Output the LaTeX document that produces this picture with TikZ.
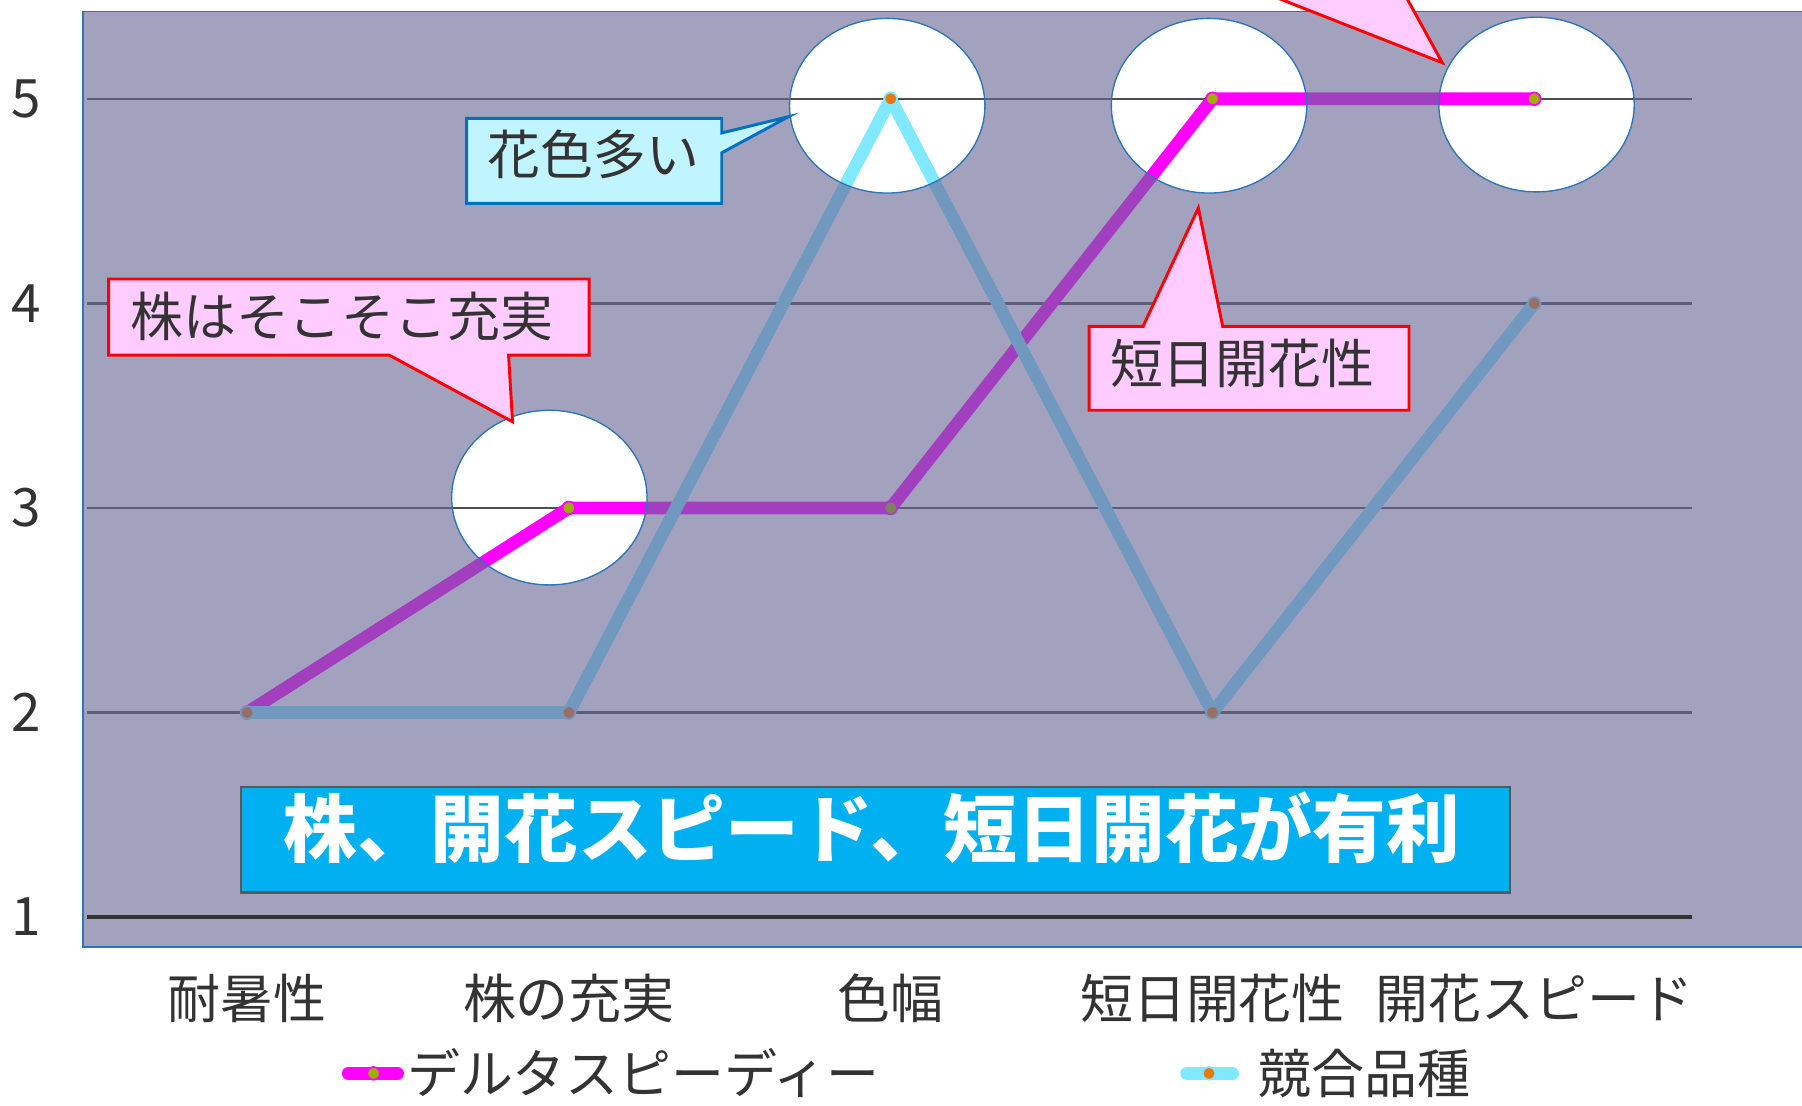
\documentclass[tikz,border=0pt]{standalone}
\usepackage{fontspec}
\setmainfont{Noto Sans CJK JP}
\usepackage{tikz}
\usetikzlibrary{positioning}
\definecolor{veilcolor}{RGB}{104,104,152}
\definecolor{deltacolor}{RGB}{255,0,255}
\definecolor{rivalcolor}{RGB}{128,232,255}
\definecolor{olivedot}{RGB}{162,172,0}
\definecolor{orangedot}{RGB}{232,120,16}
\definecolor{ringblue}{RGB}{46,117,182}
\definecolor{calloutblue}{RGB}{0,112,192}
\definecolor{calloutcyan}{RGB}{192,244,255}
\definecolor{calloutpink}{RGB}{255,204,255}
\definecolor{bannerblue}{RGB}{0,176,240}
\definecolor{labelgrey}{RGB}{51,51,51}
\definecolor{gridgrey}{RGB}{77,77,77}

\begin{document}
\begin{tikzpicture}[
    x=5cm, y=3.1786cm,
    lbl/.style={text=labelgrey, inner sep=0pt, font=\fontsize{23.4}{28}\selectfont},
    gridline/.style={gridgrey, line width=1.1pt},
    series/.style={line width=5.6pt, line join=round, line cap=round},
    dotmark/.style={line width=0.8pt},
    dotsize/.style={radius=2.8pt},
    ringsize/.style={x radius=1.518cm, y radius=1.357cm},
    ring/.style={draw=ringblue, line width=0.6pt},
    bluecall/.style={draw=calloutblue, fill=calloutcyan, line width=1.3pt},
    pinkcall/.style={draw=red, fill=calloutpink, line width=1.3pt},
    bannerbox/.style={draw=black!65, fill=bannerblue, line width=1pt, inner sep=0pt, minimum width=19.72cm, minimum height=1.6375cm},
    bannertxt/.style={text=white, inner sep=0pt, font=\fontsize{32.6}{36}\selectfont\bfseries}
]
    % Page
    \useasboundingbox (0.2321,0.0787) rectangle (5.8321,5.4831);
    \clip (0.2321,0.0787) rectangle (5.8321,5.4831);
    \fill[white] (0.2321,0.0787) rectangle (5.8321,5.4831);

    % Data points
    \foreach \v [count=\i] in {2,3,3,5,5} \coordinate (d\i) at (\i,\v);
    \foreach \v [count=\i] in {2,2,5,2,4} \coordinate (r\i) at (\i,\v);
    \coordinate (h1) at (1.9393,3.0506);
    \coordinate (h2) at (2.9893,4.9663);
    \coordinate (h3) at (3.9893,4.9663);
    \coordinate (h4) at (5.0071,4.9719);

    % Grid
    \foreach \v in {2,...,5} \draw[gridline] (0.5036,\v) -- (5.4893,\v);

    % Series
    \draw[series, deltacolor] (d1) -- (d2) -- (d3) -- (d4) -- (d5);
    \foreach \i in {1,...,5} \filldraw[dotmark, draw=deltacolor, fill=olivedot] (d\i) circle [dotsize];
    \draw[series, rivalcolor] (r1) -- (r2) -- (r3) -- (r4) -- (r5);
    \foreach \i in {1,...,5} \filldraw[dotmark, draw=rivalcolor, fill=orangedot] (r\i) circle [dotsize];

    % Veil with highlight holes
    \fill[veilcolor, opacity=0.61, even odd rule] (0.4893,0.8539) rectangle (5.9,5.4270)
        (h1) ellipse [ringsize] (h2) ellipse [ringsize] (h3) ellipse [ringsize] (h4) ellipse [ringsize];
    \draw[ringblue, line width=0.8pt] (5.9,5.4270) -- (0.4893,5.4270) -- (0.4893,0.8539) -- (5.9,0.8539);
    \foreach \h in {h1,h2,h3,h4} \draw[ring] (\h) ellipse [ringsize];
    \draw[black!80, line width=1.5pt] (0.5036,1) -- (5.4893,1);

    % Callouts
    \coordinate (tipcolor) at (2.6821,4.9124);
    \draw[bluecall] (1.6821,4.9045) -- (2.475,4.9045) -- (2.475,4.8331) -- (tipcolor)
        -- (2.475,4.7360) -- (2.475,4.4888) -- (1.6821,4.4888) -- cycle;
    \node[lbl] (colorcall) at (2.0768,4.7275) {花色多い};

    \coordinate (tipplant) at (1.825,3.4213);
    \draw[pinkcall] (0.5696,4.1191) -- (2.0629,4.1191) -- (2.0629,3.7472) -- (1.8125,3.7472)
        -- (tipplant) -- (1.4414,3.7472) -- (0.5696,3.7472) -- cycle;
    \node[lbl] (plantcall) at (1.2946,3.9354) {株はそこそこ充実};

    \coordinate (tipshort) at (3.9561,4.4663);
    \draw[pinkcall] (3.6164,3.8876) -- (3.7843,3.8876) -- (tipshort) -- (4.0318,3.8876)
        -- (4.6107,3.8876) -- (4.6107,3.4775) -- (3.6164,3.4775) -- cycle;
    \node[lbl] (shortcall) at (4.0929,3.7079) {短日開花性};

    \coordinate (tiptop) at (4.7143,5.1764);
    \draw[pinkcall] (4.1096,5.55) -- (tiptop) -- (4.5837,5.55);

    % Banner
    \node[bannerbox] (verdict) at (2.953,1.3773) {};
    \node[bannertxt] (verdicttxt) at (2.9411,1.4382) {株、開花スピード、短日開花が有利};

    % Axis labels
    \foreach \v in {1,...,5} \node[lbl] (y\v) at (0.3125,\v) {\v};
    \foreach \t [count=\i] in {耐暑性,株の充実,色幅,短日開花性,開花スピード}
        \node[lbl] (cat\i) at (\i,0.604) {\t};

    % Legend
    \coordinate (lga) at (1.3143,0.2360);
    \coordinate (lgb) at (1.4679,0.2360);
    \coordinate (lgm) at (1.3929,0.2360);
    \draw[series, deltacolor] (lga) -- (lgb);
    \filldraw[dotmark, draw=deltacolor, fill=olivedot] (lgm) circle [dotsize];
    \node[lbl, right=0.14cm of lgb] (lgdelta) {デルタスピーディー};

    \coordinate (lgc) at (3.9196,0.2360);
    \coordinate (lgd) at (4.0625,0.2360);
    \coordinate (lgn) at (3.9893,0.2360);
    \draw[series, rivalcolor] (lgc) -- (lgd);
    \filldraw[dotmark, draw=rivalcolor, fill=orangedot] (lgn) circle [dotsize];
    \node[lbl, right=0.40cm of lgd] (lgrival) {競合品種};
\end{tikzpicture}
\end{document}
